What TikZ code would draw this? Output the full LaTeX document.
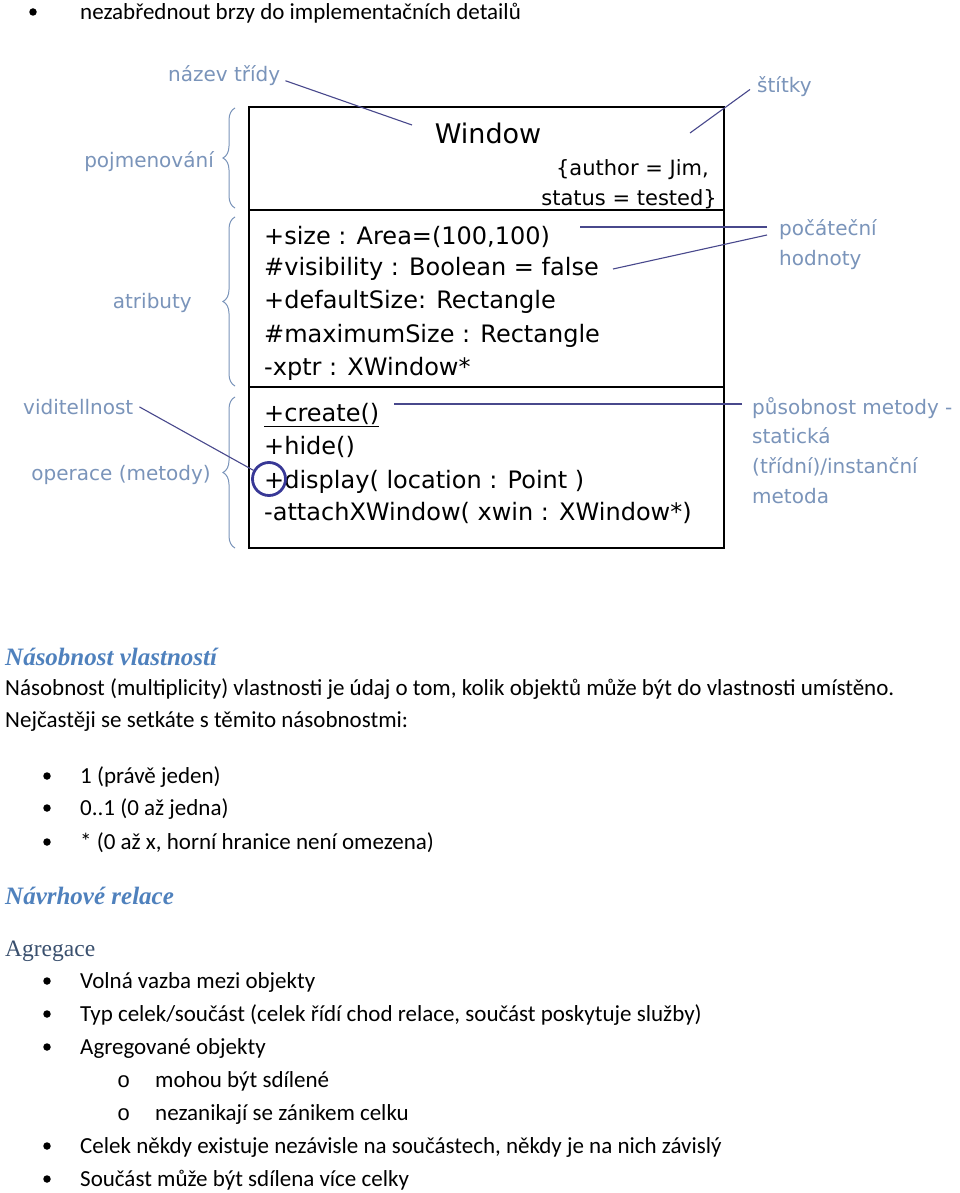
\documentclass[tikz,border=0pt]{standalone}
\usepackage{fontspec}
\setmainfont{Carlito}
\newfontfamily\umlfont{DejaVu Sans}
\newfontfamily\headfont{Liberation Serif}
\newfontfamily\subfont{Liberation Mono}
\usetikzlibrary{decorations.pathreplacing}

\definecolor{labelblue}{RGB}{122,148,186}
\definecolor{leadblue}{RGB}{72,72,140}
\definecolor{ringblue}{RGB}{56,56,150}
\definecolor{headblue}{RGB}{79,129,189}
\definecolor{subhead}{RGB}{58,80,110}

\begin{document}
\begin{tikzpicture}[x=1pt, y=-1pt,
    uml/.style={anchor=mid west, inner sep=0pt, yshift=-6.5pt,
      font=\umlfont\fontsize{24}{28}\selectfont},
    tag/.style={uml, anchor=mid east,
      font=\umlfont\fontsize{21}{25}\selectfont},
    lbl/.style={inner sep=0pt, text=labelblue, yshift=-5pt,
      font=\umlfont\fontsize{20}{24}\selectfont},
    body/.style={anchor=mid west, inner sep=0pt, yshift=-5.5pt,
      font=\fontsize{23}{28}\selectfont},
    heading/.style={anchor=mid west, inner sep=0pt, text=headblue, yshift=-6pt,
      font=\headfont\bfseries\itshape\fontsize{25}{29}\selectfont},
    leader/.style={leadblue, line width=1.1pt},
    curly/.style={labelblue, line width=1pt, decorate,
      decoration={brace, amplitude=12pt}},
    dot/.style={circle, fill, inner sep=0pt, minimum size=7.5pt}]
    \useasboundingbox (0, 0) rectangle (960, 1193);
    \fill [white] (0, 0) rectangle (960, 1193);

    \node [dot] (b0) at (33, 12) {};
    \node [body] (t0) at (80, 12) {nezabřednout brzy do implementačních detailů};

    % trida Window
    \draw [line width=1.6pt] (249, 107) rectangle (724, 548);
    \draw [line width=1.6pt] (249, 210) -- (724, 210);
    \draw [line width=1.6pt] (249, 387) -- (724, 387);

    \node [font=\umlfont\fontsize{27}{30}\selectfont, inner sep=0pt]
    (title) at (488, 133) {Window};
    \node [tag] (tagA) at (709, 167) {\{author = Jim,};
    \node [tag] (tagB) at (717, 197) {status = tested\}};

    \node [uml] (atA) at (264, 236) {+size : Area=(100,100)};
    \node [uml] (atB) at (264, 267) {\#visibility : Boolean = false};
    \node [uml] (atC) at (264, 300) {+defaultSize: Rectangle};
    \node [uml] (atD) at (264, 334) {\#maximumSize : Rectangle};
    \node [uml] (atE) at (264, 367) {-xptr : XWindow*};

    \node [uml] (opA) at (264, 413) {\underline{+create()}};
    \node [uml] (opB) at (264, 446) {+hide()};
    \node [uml] (opC) at (264, 480) {+display( location : Point )};
    \node [uml] (opD) at (264, 512) {-attachXWindow( xwin : XWindow*)};

    \node [draw=ringblue, line width=2.8pt, circle, minimum size=33pt,
    inner sep=0pt] (vis) at (269, 479) {};

    % slozene zavorky
    \draw [curly] (235, 208) -- (235, 108);
    \draw [curly] (235, 386) -- (235, 217);
    \draw [curly] (235, 548) -- (235, 397);

    % popisky
    \node [lbl, anchor=mid west] (nazev) at (168, 74) {název třídy};
    \node [lbl, anchor=mid west] (stitky) at (757, 85) {štítky};
    \node [lbl, anchor=mid east] (pojm) at (214, 160) {pojmenování};
    \node [lbl, anchor=mid east] (atrib) at (192, 301) {atributy};
    \node [lbl, anchor=mid west] (vidit) at (23, 407) {viditellnost};
    \node [lbl, anchor=mid east] (oper) at (211, 473) {operace (metody)};
    \node [lbl, anchor=north west, align=left, font=\umlfont\fontsize{20}{30}\selectfont]
    (pocat) at (779, 214) {počáteční\\hodnoty};
    \node [lbl, anchor=north west, align=left, font=\umlfont\fontsize{20}{29.7}\selectfont]
    (pusob) at (752, 392) {působnost metody -\\statická\\(třídní)/instanční\\metoda};

    \coordinate (nazevEnd) at (412, 125);
    \coordinate (stitkyEnd) at (690, 133);
    \coordinate (pocatEndA) at (580, 227);
    \coordinate (pocatEndB) at (613, 269);
    \coordinate (pusobEnd) at (394, 404);

    \draw [leader] ([shift={(5, -5)}]nazev.south east) -- (nazevEnd);
    \draw [leader] ([shift={(-7, 3)}]stitky.west) -- (stitkyEnd);
    \draw [leader] ([shift={(-12, 8)}]pocat.north west) -- (pocatEndA);
    \draw [leader] ([shift={(-12, 16)}]pocat.north west) -- (pocatEndB);
    \draw [leader] ([shift={(-10, 7)}]pusob.north west) -- (pusobEnd);
    \draw [leader] ([shift={(6, 0)}]vidit.east) -- (vis);

    % text pod diagramem
    \node [heading] (h1) at (5, 657) {Násobnost vlastností};
    \node [body] (p1) at (5, 688) {Násobnost (multiplicity) vlastnosti je údaj o tom, kolik objektů může být do vlastnosti umístěno.};
    \node [body] (p2) at (5, 720) {Nejčastěji se setkáte s těmito násobnostmi:};

    \node [dot] (b1) at (47, 776) {};
    \node [body] (t1) at (80, 776) {1 (právě jeden)};
    \node [dot] (b2) at (47, 808) {};
    \node [body] (t2) at (80, 808) {0..1 (0 až jedna)};
    \node [dot] (b3) at (47, 842) {};
    \node [body] (t3) at (80, 842) {* (0 až x, horní hranice není omezena)};

    \node [heading] (h2) at (5, 896) {Návrhové relace};
    \node [anchor=mid west, inner sep=0pt, text=subhead, yshift=-6pt,
    font=\headfont\fontsize{23.5}{28}\selectfont] (h3) at (5, 948) {Agregace};

    \node [dot] (b4) at (47, 981) {};
    \node [body] (t4) at (80, 981) {Volná vazba mezi objekty};
    \node [dot] (b5) at (47, 1014) {};
    \node [body] (t5) at (80, 1014) {Typ celek/součást (celek řídí chod relace, součást poskytuje služby)};
    \node [dot] (b6) at (47, 1047) {};
    \node [body] (t6) at (80, 1047) {Agregované objekty};
    \node [body, font=\subfont\fontsize{22}{26}\selectfont] (s1) at (117, 1080) {o};
    \node [body] (t7) at (155, 1080) {mohou být sdílené};
    \node [body, font=\subfont\fontsize{22}{26}\selectfont] (s2) at (117, 1113) {o};
    \node [body] (t8) at (155, 1113) {nezanikají se zánikem celku};
    \node [dot] (b7) at (47, 1146) {};
    \node [body] (t9) at (80, 1146) {Celek někdy existuje nezávisle na součástech, někdy je na nich závislý};
    \node [dot] (b8) at (47, 1179) {};
    \node [body] (t10) at (80, 1179) {Součást může být sdílena více celky};

  \end{tikzpicture}
\end{document}
